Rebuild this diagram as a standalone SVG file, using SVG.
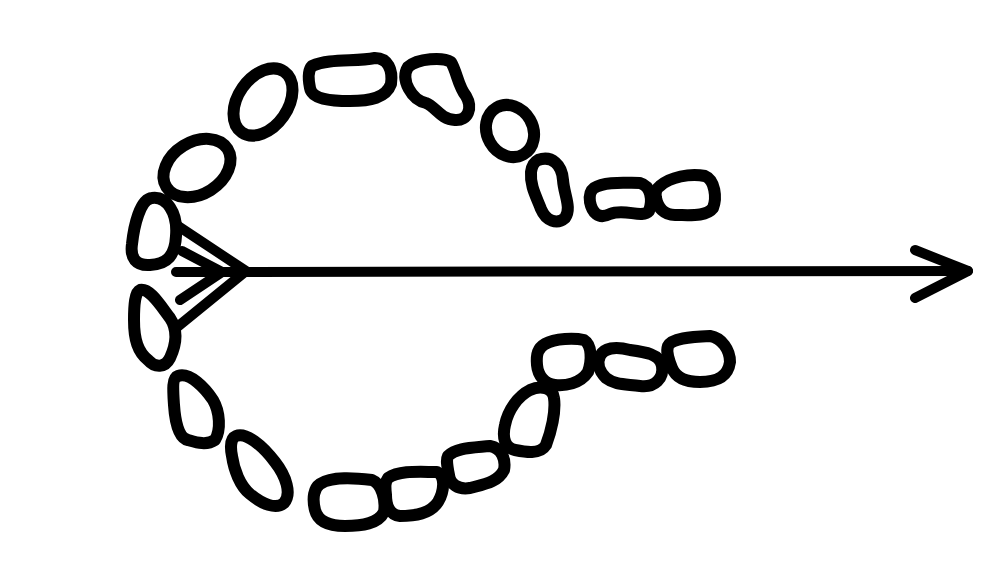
<svg xmlns="http://www.w3.org/2000/svg" width="1000" height="571" viewBox="0 0 1000 571">
<style>
.s{fill:none;stroke:#000;stroke-width:12;stroke-linejoin:round;stroke-linecap:round}
.a{fill:none;stroke:#000;stroke-width:10;stroke-linejoin:round;stroke-linecap:round}
</style>
<rect width="1000" height="571" fill="#fff"/>
<g id="stones">
<path class="s" d="M152,198 C166,196 178,212 176,236 C175,255 168,264 150,265 C136,266 130,258 132,244 C134,226 140,199 152,198 Z"/>
<ellipse class="s" cx="197" cy="168" rx="36" ry="26" transform="rotate(-32 197 168)"/>
<ellipse class="s" cx="263" cy="102" rx="37" ry="25" transform="rotate(-55 263 102)"/>
<path class="s" d="M312,66 C330,58 355,62 375,58 C388,58 393,70 391,84 C386,98 370,101 350,101 C330,101 312,99 310,88 C308,78 308,70 312,66 Z"/>
<path class="s" d="M408,67 C418,58 443,57 451,62 C457,72 458,86 466,96 C473,108 468,121 455,120 C440,119 436,107 426,103 C412,100 400,80 408,67 Z"/>
<ellipse class="s" cx="510" cy="131" rx="23" ry="27" transform="rotate(-30 510 131)"/>
<path class="s" d="M538,160 C552,155 562,165 563,180 C564,195 572,208 565,218 C557,225 546,221 541,209 C536,196 530,186 531,172 C532,165 534,162 538,160 Z"/>
<path class="s" d="M594,188 C605,181 625,183 640,183 C651,186 653,200 649,211 C642,219 625,208 610,214 C598,220 592,212 590,202 C589,195 590,191 594,188 Z"/>
<path class="s" d="M660,186 C670,177 690,173 705,176 C715,180 717,198 713,208 C706,217 690,215 675,215 C664,215 658,208 656,198 C655,192 656,189 660,186 Z"/>
<path class="s" d="M140,290 C150,288 160,305 170,318 C178,330 176,345 170,358 C165,368 155,368 148,360 C138,352 134,340 134,320 C134,305 135,292 140,290 Z"/>
<path class="s" d="M178,376 C190,372 205,388 213,400 C220,412 221,430 215,440 C206,446 195,442 188,440 C178,438 175,420 174,405 C173,390 172,378 178,376 Z"/>
<path class="s" d="M236,436 C246,432 262,445 275,462 C286,476 292,494 284,503 C276,510 262,504 250,494 C240,486 234,470 232,456 C230,446 231,438 236,436 Z"/>
<path class="s" d="M320,484 C332,476 355,478 372,480 C382,484 386,500 384,512 C378,524 362,526 345,526 C330,526 318,522 315,510 C312,498 314,488 320,484 Z"/>
<path class="s" d="M388,478 C400,470 420,472 437,472 C446,476 444,492 438,502 C430,514 415,516 400,516 C390,515 386,505 386,495 C385,486 385,482 388,478 Z"/>
<path class="s" d="M448,456 C456,448 470,448 490,446 C502,448 506,460 504,470 C498,482 485,484 470,488 C458,490 450,484 449,475 C447,465 446,460 448,456 Z"/>
<path class="s" d="M530,390 C541,385 553,388 554,398 C556,412 551,432 546,445 C540,455 525,452 515,450 C505,448 502,438 505,425 C508,410 518,396 530,390 Z"/>
<path class="s" d="M545,344 C555,338 575,338 584,340 C592,345 592,360 588,372 C580,384 565,386 555,385 C545,384 538,376 537,365 C536,354 538,348 545,344 Z"/>
<path class="s" d="M600,356 C604,348 615,346 630,350 C645,352 660,354 662,366 C664,378 655,388 640,386 C625,384 615,385 606,378 C598,370 597,362 600,356 Z"/>
<path class="s" d="M668,346 C672,338 690,337 710,336 C722,338 730,350 730,362 C728,376 718,382 700,382 C685,382 676,378 672,368 C668,358 666,352 668,346 Z"/>
</g>
<g id="arrow">
<path class="a" d="M176,272 L968,271"/>
<path class="a" d="M915,250 L968,271 L915,298"/>
<path class="a" d="M182,251 L222,272 L180,300"/>
<path class="a" d="M178,226 L246,271 L176,328"/>
</g>
</svg>
